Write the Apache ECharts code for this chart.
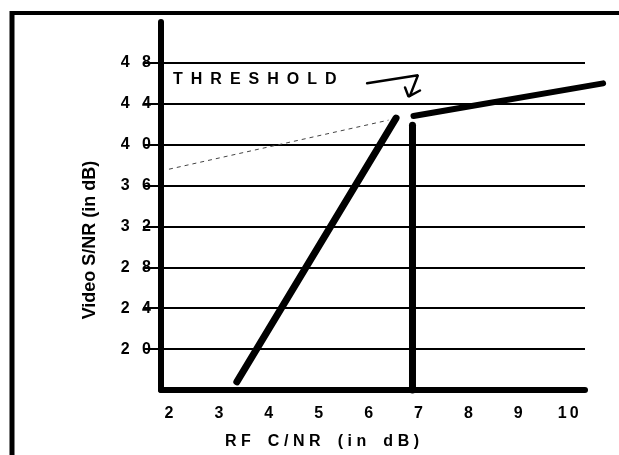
<!DOCTYPE html>
<html>
<head>
<meta charset="utf-8">
<script src="https://cdn.jsdelivr.net/npm/echarts@6/dist/echarts.min.js"></script>
<style>
html,body{margin:0;padding:0;background:#fff;}
#chart{width:619px;height:455px;}
</style>
</head>
<body>
<div id="chart"></div>
<script>
// ---- data (values in dB) ----
var xTickValues = [2, 3, 4, 5, 6, 7, 8, 9, 10];
var yTickValues = [20, 24, 28, 32, 36, 40, 44, 48];
var steepLineX = [3.36, 6.55];
var steepLineY = [16.8, 42.6];
var extrapX = [2.0, 6.4];
var extrapY = [37.6, 42.4];
var thresholdX = [6.88, 6.88];
var thresholdY = [16, 41.9];
var aboveX = [6.9, 10.7];
var aboveY = [42.8, 46.0];
var arrowShaftX = [5.97, 6.99, 6.83];
var arrowShaftY = [46.0, 46.8, 44.8];
var arrowHeadX = [6.73, 6.8, 7.03];
var arrowHeadY = [45.6, 44.7, 45.3];
var thresholdText = 'THRESHOLD';
var xTitle = 'RF C/NR (in dB)';
var yTitle = 'Video S/NR (in dB)';

function zip(xs, ys) { return xs.map(function (x, i) { return [x, ys[i]]; }); }
function track(s, sep) { return s.split('').map(function (c) { return c === ' ' ? '\u2002' : c; }).join(sep); }

var FONT = '"Liberation Sans", Arial, Helvetica, sans-serif';
var chart = echarts.init(document.getElementById('chart'));

// x scale: 49.9 px per dB starting at 1.84 dB at the y axis
var X_MIN = 1.84, PX_PER_DB = 49.9;

function lineSeries(data, width, extra, gridIdx) {
  var s = {
    type: 'line', data: data, symbol: 'none', clip: false, silent: true,
    xAxisIndex: gridIdx || 0, yAxisIndex: gridIdx || 0,
    lineStyle: { color: '#000', width: width, cap: 'round' }, z: 5
  };
  if (extra) { for (var k in extra) s.lineStyle[k] = extra[k]; }
  return s;
}

chart.setOption({
  animation: false,
  backgroundColor: '#fff',
  grid: [
    { left: 161, right: 34, top: 22, bottom: 65, containLabel: false },
    { left: 161, right: 13, top: 22, bottom: 65, containLabel: false }
  ],
  xAxis: [{
    type: 'value', min: X_MIN, max: X_MIN + (619 - 34 - 161) / PX_PER_DB,
    axisLine: { onZero: false, lineStyle: { color: '#000', width: 6 } },
    axisTick: { show: false },
    splitLine: { show: false },
    axisLabel: {
      customValues: xTickValues, margin: 16,
      color: '#000', fontSize: 16, fontWeight: 'bold', fontFamily: FONT,
      formatter: function (v) { return String(v).split('').join('\u2009'); }
    }
  }, {
    gridIndex: 1, type: 'value', min: X_MIN, max: X_MIN + (619 - 13 - 161) / PX_PER_DB, show: false
  }],
  yAxis: [{
    type: 'value', min: 16, max: 52, interval: 4,
    axisLine: { onZero: false, lineStyle: { color: '#000', width: 6 } },
    axisTick: { customValues: yTickValues, length: 18, lineStyle: { color: '#000', width: 2 } },
    splitLine: { show: true, lineStyle: { color: '#000', width: 2 } },
    axisLabel: {
      customValues: yTickValues, margin: 10,
      color: '#000', fontSize: 16, fontWeight: 'bold', fontFamily: FONT,
      formatter: function (v) { return String(v).split('').join('\u2002\u2009\u200a'); }
    }
  }, {
    gridIndex: 1, type: 'value', min: 16, max: 52, show: false
  }],
  series: [
    lineSeries(zip(steepLineX, steepLineY), 7),
    lineSeries(zip(extrapX, extrapY), 1, { type: [4, 4], color: '#444', cap: 'butt' }),
    lineSeries(zip(thresholdX, thresholdY), 7),
    lineSeries(zip(aboveX, aboveY), 6, null, 1),
    lineSeries(zip(arrowShaftX, arrowShaftY), 2.5),
    lineSeries(zip(arrowHeadX, arrowHeadY), 2.5)
  ],
  graphic: [
    { type: 'line', shape: { x1: 10, y1: 13, x2: 619, y2: 13 }, style: { stroke: '#000', lineWidth: 4 } },
    { type: 'line', shape: { x1: 12, y1: 11, x2: 12, y2: 455 }, style: { stroke: '#000', lineWidth: 5 } },
    { type: 'text', x: 173, y: 80, style: { text: track(thresholdText, '\u2002'), fill: '#000',
        font: 'bold 16px ' + FONT, textAlign: 'left', textVerticalAlign: 'middle' } },
    { type: 'text', x: 322, y: 442, style: { text: track(xTitle, '\u2009\u200a'), fill: '#000',
        font: 'bold 16px ' + FONT, textAlign: 'center', textVerticalAlign: 'middle' } },
    { type: 'text', x: 90, y: 240, rotation: Math.PI / 2, style: { text: yTitle, fill: '#000',
        font: 'bold 18px ' + FONT, textAlign: 'center', textVerticalAlign: 'middle' } }
  ]
});
</script>
</body>
</html>
